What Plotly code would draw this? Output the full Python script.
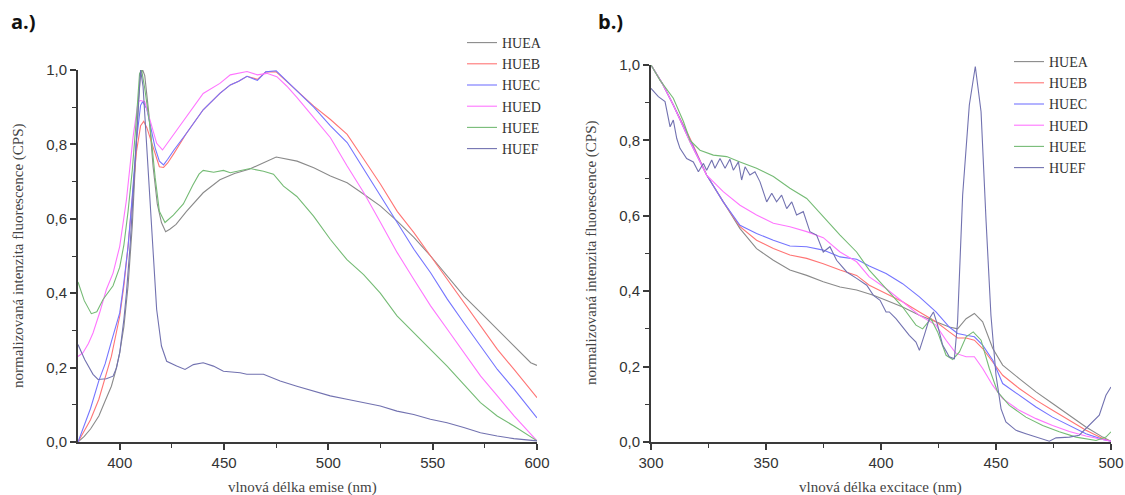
import plotly.graph_objects as go

W, H = 1125, 495
names = ["HUEA", "HUEB", "HUEC", "HUED", "HUEE", "HUEF"]
colors = ["#8a8a8a", "#ff7575", "#7575ff", "#ff75ff", "#75bb75", "#7272b0"]

# ---------- panel a: emission ----------
HUEA_a_x = [380,383,386,390,393,396,398,400,402,404,406,408,409,410,411,412,414,416,418,420,422,424,427,432,440,448,455,462,469,475,485,493,501,509,517,525,533,541,549,557,565,573,581,589,597,600]
HUEA_a_y = [0,0.015,0.035,0.07,0.11,0.15,0.19,0.24,0.31,0.42,0.58,0.80,0.92,0.99,1.0,0.985,0.88,0.74,0.64,0.59,0.565,0.572,0.585,0.62,0.67,0.705,0.722,0.733,0.751,0.766,0.755,0.737,0.715,0.697,0.666,0.634,0.594,0.55,0.50,0.446,0.392,0.348,0.303,0.258,0.213,0.206]

HUEB_a_x = [380,383,386,390,393,396,400,402,404,406,408,410,411.5,413,415,417,419,421,423,426,432,440,448,453,457,461,466,470,475,485,493,501,509,517,525,533,541,549,557,565,573,581,589,600]
HUEB_a_y = [0,0.03,0.06,0.115,0.17,0.23,0.338,0.42,0.526,0.65,0.78,0.85,0.862,0.845,0.81,0.77,0.74,0.738,0.75,0.776,0.83,0.893,0.937,0.96,0.97,0.983,0.975,0.995,0.995,0.944,0.903,0.867,0.827,0.76,0.693,0.62,0.563,0.50,0.437,0.375,0.312,0.249,0.195,0.119]

HUEC_a_x = [380,383,386,390,393,396,400,402,404,406,408,410,411,413,415,417,419,421,423,426,432,440,448,453,457,461,466,470,475,485,493,501,509,517,525,533,541,549,557,565,573,581,589,600]
HUEC_a_y = [0,0.045,0.09,0.165,0.21,0.27,0.347,0.43,0.526,0.66,0.81,0.905,0.915,0.895,0.84,0.79,0.755,0.745,0.76,0.785,0.83,0.893,0.937,0.96,0.97,0.983,0.972,0.995,0.998,0.944,0.90,0.85,0.805,0.733,0.661,0.59,0.518,0.455,0.384,0.32,0.258,0.195,0.142,0.065]

HUED_a_x = [380,382.4,385,387.2,390.4,393.6,396.8,400,403.2,406.4,408.8,410,412,414.5,417.7,420.5,424,432,440,448,453,461,466,470.5,475.3,480,485,493,501,509,517,525,533,541,549,557,565,573,581,589,600]
HUED_a_y = [0.23,0.24,0.265,0.293,0.348,0.41,0.454,0.526,0.65,0.82,0.915,0.918,0.915,0.866,0.803,0.785,0.812,0.875,0.937,0.964,0.987,0.996,0.987,0.991,0.982,0.957,0.926,0.872,0.818,0.742,0.67,0.59,0.509,0.437,0.366,0.303,0.24,0.177,0.124,0.07,0.003]

HUEE_a_x = [380,383,386.4,389,392,396.8,400,402,404,406,408,409.5,410.5,412,414.5,417,419,421.7,425.7,430.5,435,438,440,445,449.7,453,462.5,468.9,473.7,478.5,484.9,492.9,500.9,508.9,516.9,524.9,532.9,540.9,548.9,556.9,564.9,572.9,580.9,588.9,600]
HUEE_a_y = [0.43,0.38,0.345,0.35,0.383,0.42,0.47,0.53,0.62,0.73,0.87,0.99,1.0,0.95,0.85,0.71,0.62,0.59,0.61,0.64,0.69,0.72,0.73,0.725,0.73,0.724,0.735,0.728,0.72,0.688,0.66,0.607,0.545,0.49,0.45,0.40,0.339,0.294,0.249,0.204,0.155,0.106,0.07,0.043,0.003]

HUEF_a_x = [380,383.2,387.2,389.6,393.6,396.8,398.5,400,402,403.2,405,406.4,408,408.8,410,411.2,412.9,415.3,417.7,420,422.5,427.3,431.3,435.3,440,444.9,449.7,457.7,460.9,468.9,476.9,484.9,492.9,500.9,508.9,516.9,524.9,532.9,540.9,548.9,556.9,564.9,572.9,580.9,588.9,600]
HUEF_a_y = [0.262,0.222,0.182,0.168,0.17,0.177,0.2,0.24,0.33,0.40,0.53,0.67,0.82,0.90,1.0,0.955,0.80,0.58,0.356,0.258,0.217,0.204,0.195,0.208,0.213,0.204,0.19,0.186,0.182,0.182,0.164,0.15,0.137,0.124,0.115,0.106,0.097,0.083,0.074,0.061,0.052,0.039,0.025,0.016,0.009,0.003]

# ---------- panel b: excitation ----------
HUEA_b_x = [300,305,309.7,317,324.2,331.4,338.7,345.9,353.2,360.4,367.7,374.9,382.2,389.4,396.7,402.2,409.4,416.7,423.9,429.7,433.3,437,440.6,444.2,448.6,452.9,460.1,467.4,474.6,481.9,489.1,496.4,500]
HUEA_b_y = [1.0,0.95,0.894,0.796,0.708,0.637,0.566,0.513,0.482,0.456,0.442,0.425,0.411,0.403,0.389,0.376,0.358,0.336,0.319,0.305,0.30,0.327,0.341,0.319,0.248,0.204,0.168,0.133,0.102,0.071,0.04,0.013,0.002]

HUEB_b_x = [300,305,309.7,317,324.2,331.4,338.7,345.9,353.2,360.4,367.7,374.9,382.2,389.4,394.9,402.2,409.4,416.7,423.9,429.7,433.3,437,440.6,444.2,448.6,452.9,460.1,467.4,474.6,481.9,489.1,496.4,500]
HUEB_b_y = [1.0,0.95,0.894,0.805,0.708,0.637,0.571,0.535,0.513,0.496,0.487,0.473,0.456,0.442,0.416,0.394,0.372,0.345,0.319,0.292,0.276,0.276,0.27,0.248,0.212,0.177,0.142,0.111,0.084,0.058,0.031,0.009,0.002]

HUEC_b_x = [300,305,309.7,317,324.2,331.4,338.7,345.9,353.2,360.4,367.7,374.9,382.2,389.4,394.9,402.2,409.4,416.7,423.9,429.7,433.3,437,440.6,444.2,448.6,452.9,460.1,467.4,474.6,481.9,489.1,496.4,500]
HUEC_b_y = [1.0,0.95,0.894,0.80,0.708,0.637,0.575,0.553,0.535,0.52,0.518,0.509,0.491,0.485,0.467,0.447,0.42,0.385,0.345,0.305,0.288,0.283,0.279,0.257,0.217,0.155,0.124,0.093,0.066,0.044,0.022,0.007,0.002]

HUED_b_x = [300,305,309.7,317,324.2,331.4,338.7,345.9,353.2,360.4,367.7,374.9,382.2,389.4,394.9,402.2,409.4,416.7,423.9,428.3,432.6,437,440.6,444.2,448.6,452.9,460.1,467.4,474.6,481.9,489.1,496.4,500]
HUED_b_y = [1.0,0.95,0.894,0.796,0.708,0.664,0.628,0.602,0.58,0.571,0.558,0.542,0.504,0.478,0.438,0.407,0.372,0.336,0.31,0.27,0.235,0.226,0.226,0.195,0.15,0.115,0.084,0.062,0.044,0.028,0.016,0.007,0.002]

HUEE_b_x = [300,303.9,309.7,314.1,317,321.3,327.1,332.9,338.7,345.9,353.2,360.4,367.7,374.9,382.2,389.4,394.9,402.2,409.4,415.2,418.1,421.7,424.6,428.3,431.2,434.1,437,440.1,443.5,447.1,450.7,455.8,463,470.3,477.5,484.8,493.5,497.8,500]
HUEE_b_y = [1.0,0.96,0.912,0.85,0.80,0.774,0.761,0.757,0.743,0.726,0.704,0.673,0.646,0.597,0.549,0.504,0.456,0.407,0.358,0.31,0.30,0.327,0.292,0.23,0.219,0.239,0.279,0.292,0.27,0.195,0.133,0.097,0.066,0.044,0.027,0.013,0.004,0.013,0.027]

HUEF_b_x = [300,301.7,303.2,306.1,308.3,309.7,311.2,312.6,315.5,318.4,320.6,322.8,324.2,326.4,327.8,330,332.2,334.3,335.8,338,339.4,340.9,343,345.2,347.4,350.3,352.5,354.6,356.8,359,361.2,363.3,366.2,369.1,372,374.9,377.8,380.7,385.1,389.4,393.8,396.7,399.6,402.2,403.6,406.5,409.4,412.3,415.2,416.7,418.8,421,422.8,424.6,426.8,429.7,431.9,433.3,435.5,438.4,441,443.5,445.7,447.8,450,452.2,454.3,458.7,463,467.4,473.2,476.1,481.9,486.2,490.6,494.9,497.8,500]
HUEF_b_y = [0.938,0.925,0.916,0.903,0.836,0.854,0.805,0.779,0.752,0.743,0.717,0.739,0.721,0.748,0.726,0.752,0.726,0.75,0.721,0.743,0.695,0.73,0.708,0.717,0.69,0.637,0.66,0.637,0.655,0.619,0.637,0.602,0.611,0.558,0.549,0.504,0.518,0.482,0.451,0.434,0.416,0.389,0.376,0.345,0.345,0.327,0.305,0.283,0.265,0.243,0.283,0.327,0.345,0.31,0.257,0.226,0.221,0.319,0.655,0.894,0.996,0.876,0.584,0.336,0.177,0.088,0.053,0.031,0.022,0.013,0.002,0.011,0.013,0.018,0.044,0.071,0.124,0.146]

panel_a = [(HUEA_a_x, HUEA_a_y), (HUEB_a_x, HUEB_a_y), (HUEC_a_x, HUEC_a_y),
           (HUED_a_x, HUED_a_y), (HUEE_a_x, HUEE_a_y), (HUEF_a_x, HUEF_a_y)]
panel_b = [(HUEA_b_x, HUEA_b_y), (HUEB_b_x, HUEB_b_y), (HUEC_b_x, HUEC_b_y),
           (HUED_b_x, HUED_b_y), (HUEE_b_x, HUEE_b_y), (HUEF_b_x, HUEF_b_y)]

x_title_a = "vlnová délka emise (nm)"
x_title_b = "vlnová délka excitace (nm)"
y_title = "normalizovaná intenzita fluorescence (CPS)"

SERIF = "Liberation Serif, Times New Roman, DejaVu Serif, serif"
SANS = "Liberation Sans, Arial, sans-serif"

fig = go.Figure()
for i, (xs, ys) in enumerate(panel_a):
    fig.add_trace(go.Scatter(x=xs, y=ys, mode="lines", name=names[i],
                             line=dict(color=colors[i], width=1.1),
                             xaxis="x", yaxis="y", legend="legend"))
for i, (xs, ys) in enumerate(panel_b):
    fig.add_trace(go.Scatter(x=xs, y=ys, mode="lines", name=names[i],
                             line=dict(color=colors[i], width=1.1),
                             xaxis="x2", yaxis="y2", legend="legend2"))

# screen pixel -> paper coordinate (body margin is removed below)
def px(v): return v / W
def py(v): return 1 - v / H

def axis_common():
    return dict(showline=True, linecolor="#3a3a3a", linewidth=2, ticks="outside",
                ticklen=6, tickwidth=1.5, tickcolor="#3a3a3a", showgrid=False,
                zeroline=False, mirror=False, automargin=False,
                tickfont=dict(family=SANS, size=15, color="#333"))

def minor_common(dt, t0):
    return dict(dtick=dt, tick0=t0, ticks="outside", ticklen=4, tickwidth=1.2,
                tickcolor="#3a3a3a", showgrid=False)

fig.update_layout(
    width=W, height=H, plot_bgcolor="white", paper_bgcolor="white",
    margin=dict(l=0, r=0, t=0, b=0, autoexpand=False), separators=", ",
    xaxis=dict(domain=[px(78), px(537)], range=[380, 600], anchor="y",
               tick0=400, dtick=50, minor=minor_common(25, 400), **axis_common()),
    yaxis=dict(domain=[py(442), py(70)], range=[0, 1], anchor="x",
               tick0=0, dtick=0.2, tickformat=".1f", minor=minor_common(0.1, 0), **axis_common()),
    xaxis2=dict(domain=[px(651), px(1111)], range=[300, 500], anchor="y2",
                tick0=300, dtick=50, minor=minor_common(25, 300), **axis_common()),
    yaxis2=dict(domain=[py(442), py(65)], range=[0, 1], anchor="x2",
                tick0=0, dtick=0.2, tickformat=".1f", minor=minor_common(0.1, 0), **axis_common()),
    legend=dict(x=px(462), y=py(27), xanchor="left", yanchor="top", bgcolor="rgba(0,0,0,0)",
                font=dict(family=SERIF, size=14, color="#333")),
    legend2=dict(x=px(1009), y=py(46), xanchor="left", yanchor="top", bgcolor="rgba(0,0,0,0)",
                 font=dict(family=SERIF, size=14, color="#333")),
    showlegend=True,
)

ann = [
    dict(text="<b>a.)</b>", x=px(9), y=py(22), xanchor="left", yanchor="middle",
         font=dict(family="Open Sans", size=20, color="#111")),
    dict(text="<b>b.)</b>", x=px(596), y=py(22), xanchor="left", yanchor="middle",
         font=dict(family="Open Sans", size=20, color="#111")),
    dict(text=x_title_a, x=px(302), y=py(487), xanchor="center", yanchor="middle"),
    dict(text=x_title_b, x=px(880), y=py(487), xanchor="center", yanchor="middle"),
    dict(text=y_title, x=px(18), y=py(256), textangle=-90, xanchor="center", yanchor="middle"),
    dict(text=y_title, x=px(592), y=py(253), textangle=-90, xanchor="center", yanchor="middle"),
]
for k, a in enumerate(ann):
    a.update(xref="paper", yref="paper", showarrow=False)
    if k >= 2:
        a["font"] = dict(family=SERIF, size=15, color="#444")
fig.update_layout(annotations=ann)

fig.write_html("out.html", config={"displayModeBar": False},
               post_script="document.body.style.margin='0';document.body.style.overflow='hidden';")
